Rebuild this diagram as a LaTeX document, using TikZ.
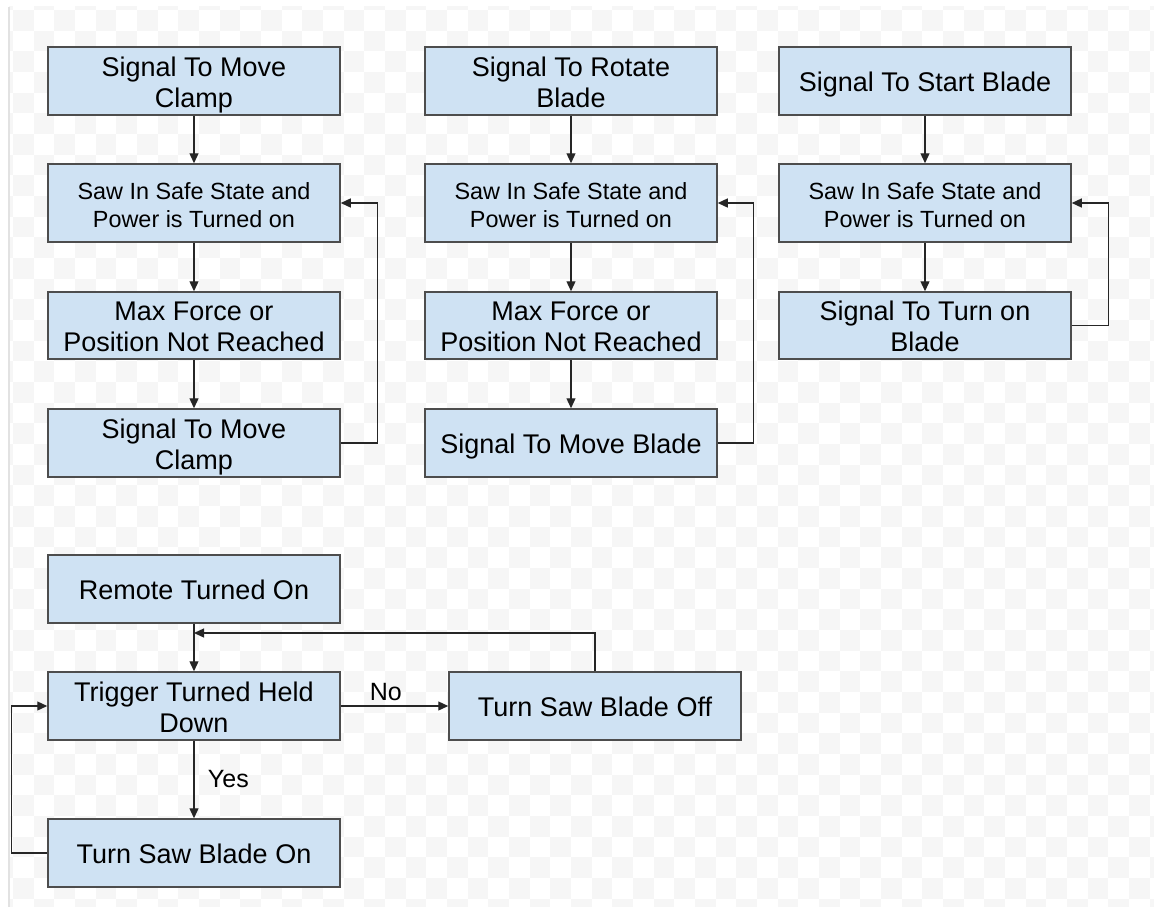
\documentclass[tikz,border=0pt]{standalone}
\usepackage{fontspec}
\setmainfont{Liberation Sans}
\usetikzlibrary{arrows.meta}
\definecolor{boxfill}{HTML}{CFE2F3}
\definecolor{boxline}{HTML}{4D4D4D}
\definecolor{checkgray}{HTML}{F6F6F6}
\definecolor{edgegray}{HTML}{E2E2E2}
\newcommand\boxtext[1]{\raisebox{-4.5pt}[\height][\depth]{\begin{tabular}{@{}c@{}}#1\end{tabular}}}
\tikzset{
  flowbox/.style={draw=boxline, line width=1.5pt, fill=boxfill, minimum width=292pt,
    inner sep=0pt, text=black},
  bigtext/.style={font=\fontsize{27}{31}\selectfont},
  smalltext/.style={font=\fontsize{23.4}{28}\selectfont},
  conn/.style={line width=1.3pt, draw=black!85, -{Triangle[length=10pt,width=9pt]}},
  lbl/.style={font=\fontsize{25}{28}\selectfont, text=black}
}
\begin{document}
\begin{tikzpicture}[x=1pt,y=-1pt]
\useasboundingbox (0,0) rectangle (1154,907);
% background checkerboard
\begin{scope}
\clip (9,7) rectangle (1154,907);
\foreach \j in {-1,...,44}{
  \pgfmathtruncatemacro\off{mod(\j+100,2)}
  \foreach \k in {-1,...,28}{
    \pgfmathsetmacro\xa{12.9+(2*\k+\off)*20.67}
    \pgfmathsetmacro\ya{9.9+\j*20.67}
    \fill[checkgray] (\xa,\ya) rectangle ++(20.67,20.67);
  }
}
\end{scope}
\draw[edgegray, line width=1.2pt] (9,7) -- (9,907);

% column 1
\node[flowbox, bigtext, minimum height=68pt] (a1) at (194,81) {\boxtext{Signal To Move\\Clamp}};
\node[flowbox, smalltext, minimum height=78pt] (a2) at (194,203) {\boxtext{Saw In Safe State and\\Power is Turned on}};
\node[flowbox, bigtext, minimum height=67pt] (a3) at (194,325.5) {\boxtext{Max Force or\\Position Not Reached}};
\node[flowbox, bigtext, minimum height=68pt] (a4) at (194,443) {\boxtext{Signal To Move\\Clamp}};
% column 2
\node[flowbox, bigtext, minimum height=68pt] (b1) at (571,81) {\boxtext{Signal To Rotate\\Blade}};
\node[flowbox, smalltext, minimum height=78pt] (b2) at (571,203) {\boxtext{Saw In Safe State and\\Power is Turned on}};
\node[flowbox, bigtext, minimum height=67pt] (b3) at (571,325.5) {\boxtext{Max Force or\\Position Not Reached}};
\node[flowbox, bigtext, minimum height=68pt] (b4) at (571,443) {\boxtext{Signal To Move Blade}};
% column 3
\node[flowbox, bigtext, minimum height=68pt] (c1) at (925,81) {\boxtext{Signal To Start Blade}};
\node[flowbox, smalltext, minimum height=78pt] (c2) at (925,203) {\boxtext{Saw In Safe State and\\Power is Turned on}};
\node[flowbox, bigtext, minimum height=67pt] (c3) at (925,325.5) {\boxtext{Signal To Turn on\\Blade}};
% bottom
\node[flowbox, bigtext, minimum height=68pt] (r) at (194,589) {\boxtext{Remote Turned On}};
\node[flowbox, bigtext, minimum height=68pt] (t) at (194,706) {\boxtext{Trigger Turned Held\\Down}};
\node[flowbox, bigtext, minimum height=68pt] (on) at (194,853) {\boxtext{Turn Saw Blade On}};
\node[flowbox, bigtext, minimum height=68pt] (off) at (595,706) {\boxtext{Turn Saw Blade Off}};

% connectors column 1
\draw[conn] (a1) -- (a2);
\draw[conn] (a2) -- (a3);
\draw[conn] (a3) -- (a4);
\draw[conn] (a4.east) -- ++(37,0) |- (a2.east);
% column 2
\draw[conn] (b1) -- (b2);
\draw[conn] (b2) -- (b3);
\draw[conn] (b3) -- (b4);
\draw[conn] (b4.east) -- ++(36,0) |- (b2.east);
% column 3
\draw[conn] (c1) -- (c2);
\draw[conn] (c2) -- (c3);
\draw[conn] (c3.east) -- ++(37,0) |- (c2.east);
% bottom
\coordinate (join) at (194,633);
\draw[conn] (r) -- (t);
\draw[conn] (off.north) |- (join);
\draw[conn] (t.east) -- node[lbl, above=1pt, pos=0.42] {No} (off.west);
\draw[conn] (t.south) -- node[lbl, right=10pt, pos=0.5] {Yes} (on.north);
\draw[conn] (on.west) -- ++(-36,0) |- (t.west);
\end{tikzpicture}
\end{document}
